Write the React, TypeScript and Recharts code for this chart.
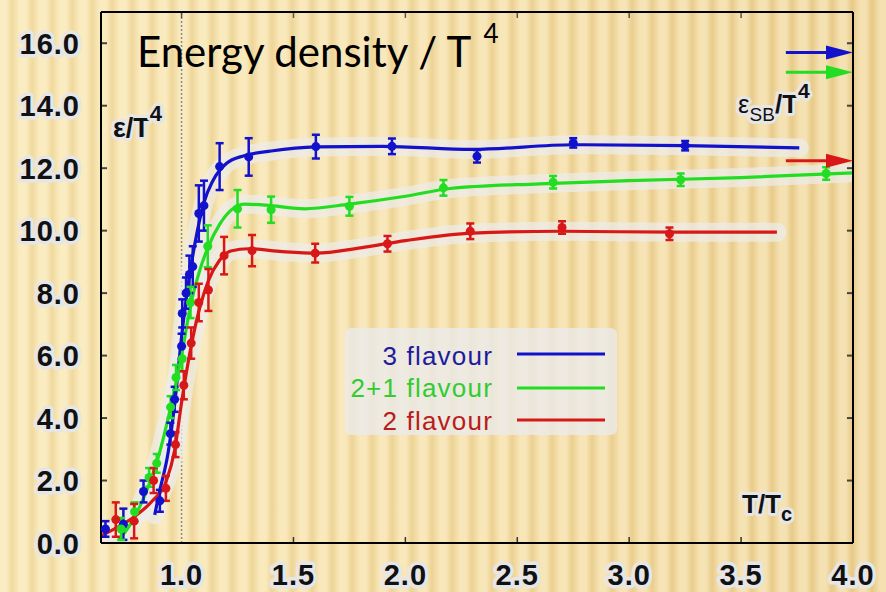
import React from "react";
import { ComposedChart, Line, Scatter, ErrorBar, XAxis, YAxis, ReferenceLine } from "recharts";

// lattice points: T/Tc, eps/T^4 and its error, one set per flavour content
const threeFlavourT = [0.66, 0.74, 0.83, 0.903, 0.95, 0.969, 1.0, 1.003, 1.02, 1.035, 1.05, 1.077, 1.1, 1.17, 1.3, 1.6, 1.94, 2.32, 2.75, 3.25];
const threeFlavourE = [0.45, 0.6, 1.65, 1.35, 3.5, 4.6, 6.3, 7.35, 8.0, 8.6, 8.85, 10.55, 10.8, 12.05, 12.36, 12.69, 12.7, 12.38, 12.81, 12.72];
const threeFlavourErr = [0.25, 0.5, 0.35, 0.35, 0.35, 0.4, 0.4, 0.45, 0.5, 0.6, 0.65, 0.9, 0.8, 0.75, 0.6, 0.38, 0.25, 0.2, 0.15, 0.15];

const twoPlusOneT = [0.73, 0.79, 0.855, 0.889, 0.951, 0.975, 1.003, 1.04, 1.117, 1.25, 1.4, 1.75, 2.17, 2.66, 3.23, 3.88];
const twoPlusOneE = [0.45, 1.0, 2.1, 2.55, 4.35, 5.3, 5.9, 7.7, 9.5, 10.7, 10.67, 10.78, 11.37, 11.55, 11.63, 11.83];
const twoPlusOneErr = [0.35, 0.3, 0.3, 0.3, 0.35, 0.4, 0.4, 0.5, 0.67, 0.6, 0.42, 0.3, 0.25, 0.2, 0.2, 0.2];

const twoFlavourT = [0.706, 0.788, 0.875, 0.93, 0.973, 1.01, 1.043, 1.077, 1.12, 1.19, 1.315, 1.597, 1.92, 2.29, 2.7, 3.18];
const twoFlavourE = [0.75, 0.7, 2.0, 1.75, 3.15, 5.05, 6.4, 7.7, 8.1, 9.2, 9.36, 9.28, 9.58, 9.98, 10.1, 9.9];
const twoFlavourErr = [0.55, 0.55, 0.4, 0.4, 0.4, 0.45, 0.5, 0.6, 0.67, 0.6, 0.5, 0.3, 0.25, 0.25, 0.2, 0.2];

// smooth fit curves
const threeFitT = [0.88, 0.9, 0.94, 0.97, 1.0, 1.03, 1.06, 1.1, 1.14, 1.2, 1.28, 1.4, 1.6, 1.9, 2.3, 2.75, 3.25, 3.76];
const threeFitE = [0.9, 1.6, 2.9, 4.5, 6.6, 8.3, 9.6, 10.9, 11.6, 12.15, 12.4, 12.55, 12.68, 12.7, 12.6, 12.75, 12.72, 12.65];

const twoPlusOneFitT = [0.72, 0.78, 0.84, 0.89, 0.95, 1.0, 1.04, 1.08, 1.12, 1.17, 1.22, 1.28, 1.4, 1.55, 1.75, 2.0, 2.2, 2.6, 3.0, 3.5, 4.0];
const twoPlusOneFitE = [0.1, 0.7, 1.6, 2.6, 4.3, 6.0, 7.6, 8.7, 9.5, 10.2, 10.65, 10.85, 10.8, 10.7, 10.85, 11.1, 11.35, 11.5, 11.6, 11.7, 11.85];

const twoFitT = [0.645, 0.7, 0.79, 0.87, 0.93, 0.97, 1.0, 1.04, 1.08, 1.12, 1.17, 1.22, 1.3, 1.45, 1.6, 1.8, 2.0, 2.3, 2.7, 3.2, 3.66];
const twoFitE = [0.25, 0.45, 0.85, 1.35, 1.95, 3.0, 4.5, 6.2, 7.5, 8.4, 9.05, 9.35, 9.42, 9.33, 9.28, 9.45, 9.68, 9.92, 9.98, 9.95, 9.95];

// Stefan-Boltzmann limits shown as arrows on the right edge
const sbLimits = [15.7, 15.07, 12.24];

const xTicks = [1.0, 1.5, 2.0, 2.5, 3.0, 3.5, 4.0];
const yTicks = [0, 2, 4, 6, 8, 10, 12, 14, 16];

const X_MIN = 0.64;
const X_MAX = 4.0;
const Y_MAX = 17;

const BLUE = "#1212cc";
const GREEN = "#22dd22";
const RED = "#d81818";

const points = (t: number[], e: number[], err: number[]) => t.map((x, i) => ({ x, y: e[i], err: err[i] }));
const curve = (t: number[], e: number[]) => t.map((x, i) => ({ x, y: e[i] }));

const threePts = points(threeFlavourT, threeFlavourE, threeFlavourErr);
const twoPlusOnePts = points(twoPlusOneT, twoPlusOneE, twoPlusOneErr);
const twoPts = points(twoFlavourT, twoFlavourE, twoFlavourErr);

const threeFit = curve(threeFitT, threeFitE);
const twoPlusOneFit = curve(twoPlusOneFitT, twoPlusOneFitE);
const twoFit = curve(twoFitT, twoFitE);

const tickFont = "'Liberation Sans', Arial, sans-serif";

function YTick({ x, y, payload }: any) {
  return (
    <text x={x} y={y} dy={10.5} textAnchor="end" fontFamily={tickFont} fontWeight={700} fontSize={29}
      letterSpacing={1} fill="#111" stroke="#e6e6e6" strokeWidth={7} strokeLinejoin="round" paintOrder="stroke">
      {Number(payload.value).toFixed(1)}
    </text>
  );
}

function XTick({ x, y, payload }: any) {
  return (
    <text x={x} y={y} dy={42} textAnchor="middle" fontFamily={tickFont} fontWeight={700} fontSize={29}
      letterSpacing={1} fill="#111" stroke="#e6e6e6" strokeWidth={7} strokeLinejoin="round" paintOrder="stroke">
      {Number(payload.value).toFixed(1)}
    </text>
  );
}

const dot = (color: string) => (props: any) => <circle cx={props.cx} cy={props.cy} r={4.5} fill={color} />;

const arrow = (color: string) => (props: any) => {
  const { x1, y1, x2, y2 } = props;
  return (
    <g>
      <line x1={x1} y1={y1} x2={x2 - 20} y2={y2} stroke={color} strokeWidth={3} />
      <polygon points={`${x2},${y2} ${x2 - 27},${y2 - 7} ${x2 - 27},${y2 + 7}`} fill={color} />
    </g>
  );
};

// light backdrop drawn under each fit curve
const halo = { stroke: "#ededed", strokeWidth: 19, strokeOpacity: 0.7, strokeLinecap: "round" as const };

export default function App() {
  const tickLen = { x: 0.027, y: 0.19 };
  return (
    <div style={{
      position: "absolute", left: 0, top: 0, width: 886, height: 592, overflow: "hidden",
      background: "repeating-linear-gradient(90deg, rgba(255,248,222,0.45) 0px, rgba(255,248,222,0.45) 6px, rgba(214,180,110,0.2) 12px, rgba(255,248,222,0.45) 20px), linear-gradient(90deg, #f7e3ab 0%, #f2d99c 50%, #ebcd8b 100%)",
    }}>
      <ComposedChart width={886} height={592} margin={{ top: 12, right: 33, left: 0, bottom: 0 }}>
        <XAxis dataKey="x" type="number" domain={[X_MIN, X_MAX]} allowDataOverflow ticks={xTicks}
          height={49} tickSize={0} tickMargin={0} tickLine={false} tick={<XTick />}
          axisLine={{ stroke: "#000", strokeWidth: 2 }} />
        <YAxis type="number" domain={[0, Y_MAX]} allowDataOverflow ticks={yTicks}
          width={101} tickSize={0} tickMargin={21} tickLine={false} tick={<YTick />}
          axisLine={{ stroke: "#000", strokeWidth: 2 }} />

        <ReferenceLine x={1} stroke="#8a8a8a" strokeWidth={1.5} strokeDasharray="2 2" />

        <Line data={threeFit} dataKey="y" type="monotone" dot={false} activeDot={false} isAnimationActive={false} {...halo} />
        <Line data={twoPlusOneFit} dataKey="y" type="monotone" dot={false} activeDot={false} isAnimationActive={false} {...halo} />
        <Line data={twoFit} dataKey="y" type="monotone" dot={false} activeDot={false} isAnimationActive={false} {...halo} />

        <Line data={threeFit} dataKey="y" type="monotone" stroke={BLUE} strokeWidth={3.2} dot={false} activeDot={false} isAnimationActive={false} />
        <Line data={twoPlusOneFit} dataKey="y" type="monotone" stroke={GREEN} strokeWidth={3.2} dot={false} activeDot={false} isAnimationActive={false} />
        <Line data={twoFit} dataKey="y" type="monotone" stroke={RED} strokeWidth={3.2} dot={false} activeDot={false} isAnimationActive={false} />

        <Scatter data={threePts} dataKey="y" shape={dot(BLUE)} isAnimationActive={false}>
          <ErrorBar dataKey="err" direction="y" width={4} stroke={BLUE} strokeWidth={2.5} isAnimationActive={false} />
        </Scatter>
        <Scatter data={twoPlusOnePts} dataKey="y" shape={dot(GREEN)} isAnimationActive={false}>
          <ErrorBar dataKey="err" direction="y" width={4} stroke={GREEN} strokeWidth={2.5} isAnimationActive={false} />
        </Scatter>
        <Scatter data={twoPts} dataKey="y" shape={dot(RED)} isAnimationActive={false}>
          <ErrorBar dataKey="err" direction="y" width={4} stroke={RED} strokeWidth={2.5} isAnimationActive={false} />
        </Scatter>

        {sbLimits.map((v, i) => (
          <ReferenceLine key={`sb${i}`} ifOverflow="visible" segment={[{ x: 3.7, y: v }, { x: X_MAX, y: v }]}
            shape={arrow([BLUE, GREEN, RED][i])} />
        ))}

        {/* inward tick marks on all four sides */}
        {xTicks.slice(1, -1).map((t) => (
          <ReferenceLine key={`xb${t}`} ifOverflow="visible" stroke="#333" strokeWidth={1.5}
            segment={[{ x: t, y: 0 }, { x: t, y: tickLen.y }]} />
        ))}
        {xTicks.slice(0, -1).map((t) => (
          <ReferenceLine key={`xt${t}`} ifOverflow="visible" stroke="#555" strokeWidth={1.5}
            segment={[{ x: t, y: Y_MAX }, { x: t, y: Y_MAX - tickLen.y }]} />
        ))}
        {yTicks.slice(1).map((t) => (
          <ReferenceLine key={`yl${t}`} ifOverflow="visible" stroke="#444" strokeWidth={2}
            segment={[{ x: X_MIN, y: t }, { x: X_MIN + tickLen.x, y: t }]} />
        ))}
        {yTicks.slice(1).map((t) => (
          <ReferenceLine key={`yr${t}`} ifOverflow="visible" stroke="#444" strokeWidth={2}
            segment={[{ x: X_MAX, y: t }, { x: X_MAX - tickLen.x, y: t }]} />
        ))}

        <ReferenceLine y={Y_MAX} ifOverflow="visible" stroke="#000" strokeWidth={2} />
        <ReferenceLine x={X_MAX} ifOverflow="visible" stroke="#000" strokeWidth={2} />
      </ComposedChart>

      <svg width={886} height={592} style={{ position: "absolute", left: 0, top: 0, pointerEvents: "none" }}>
        <text x={137} y={67} fontFamily="Lato, 'Open Sans', sans-serif" fontSize={42} fill="#000">
          Energy density / T
          <tspan dx={12} dy={-24} fontSize={26}>4</tspan>
        </text>

        <g fontFamily={tickFont} fill="#111" stroke="#e6e6e6" strokeWidth={6} strokeLinejoin="round" paintOrder="stroke">
          <text x={113} y={137} fontSize={27} fontWeight={700}>
            ε/T<tspan dy={-16} fontSize={22}>4</tspan>
          </text>
          <text x={738} y={113} fontSize={26}>
            ε<tspan dy={8} fontSize={19}>SB</tspan><tspan dy={-8} fontWeight={700}>/T</tspan><tspan dy={-15} fontSize={21} fontWeight={700}>4</tspan>
          </text>
          <text x={742} y={513} fontSize={26} fontWeight={700}>
            T/T<tspan dy={8} fontSize={20}>c</tspan>
          </text>
        </g>

        <rect x={345} y={328} width={272} height={107} rx={6} fill="#ebebeb" opacity={0.8} />
        <g fontFamily={tickFont} fontSize={26} letterSpacing={1.2} textAnchor="end">
          <text x={493} y={365} fill="#1c1c9e">3 flavour</text>
          <text x={493} y={397} fill="#30cc30">2+1 flavour</text>
          <text x={493} y={430} fill="#b81c1c">2 flavour</text>
        </g>
        <line x1={517} y1={354} x2={605} y2={354} stroke={BLUE} strokeWidth={3} />
        <line x1={517} y1={388} x2={605} y2={388} stroke={GREEN} strokeWidth={3} />
        <line x1={517} y1={420} x2={605} y2={420} stroke={RED} strokeWidth={3} />
      </svg>
    </div>
  );
}
